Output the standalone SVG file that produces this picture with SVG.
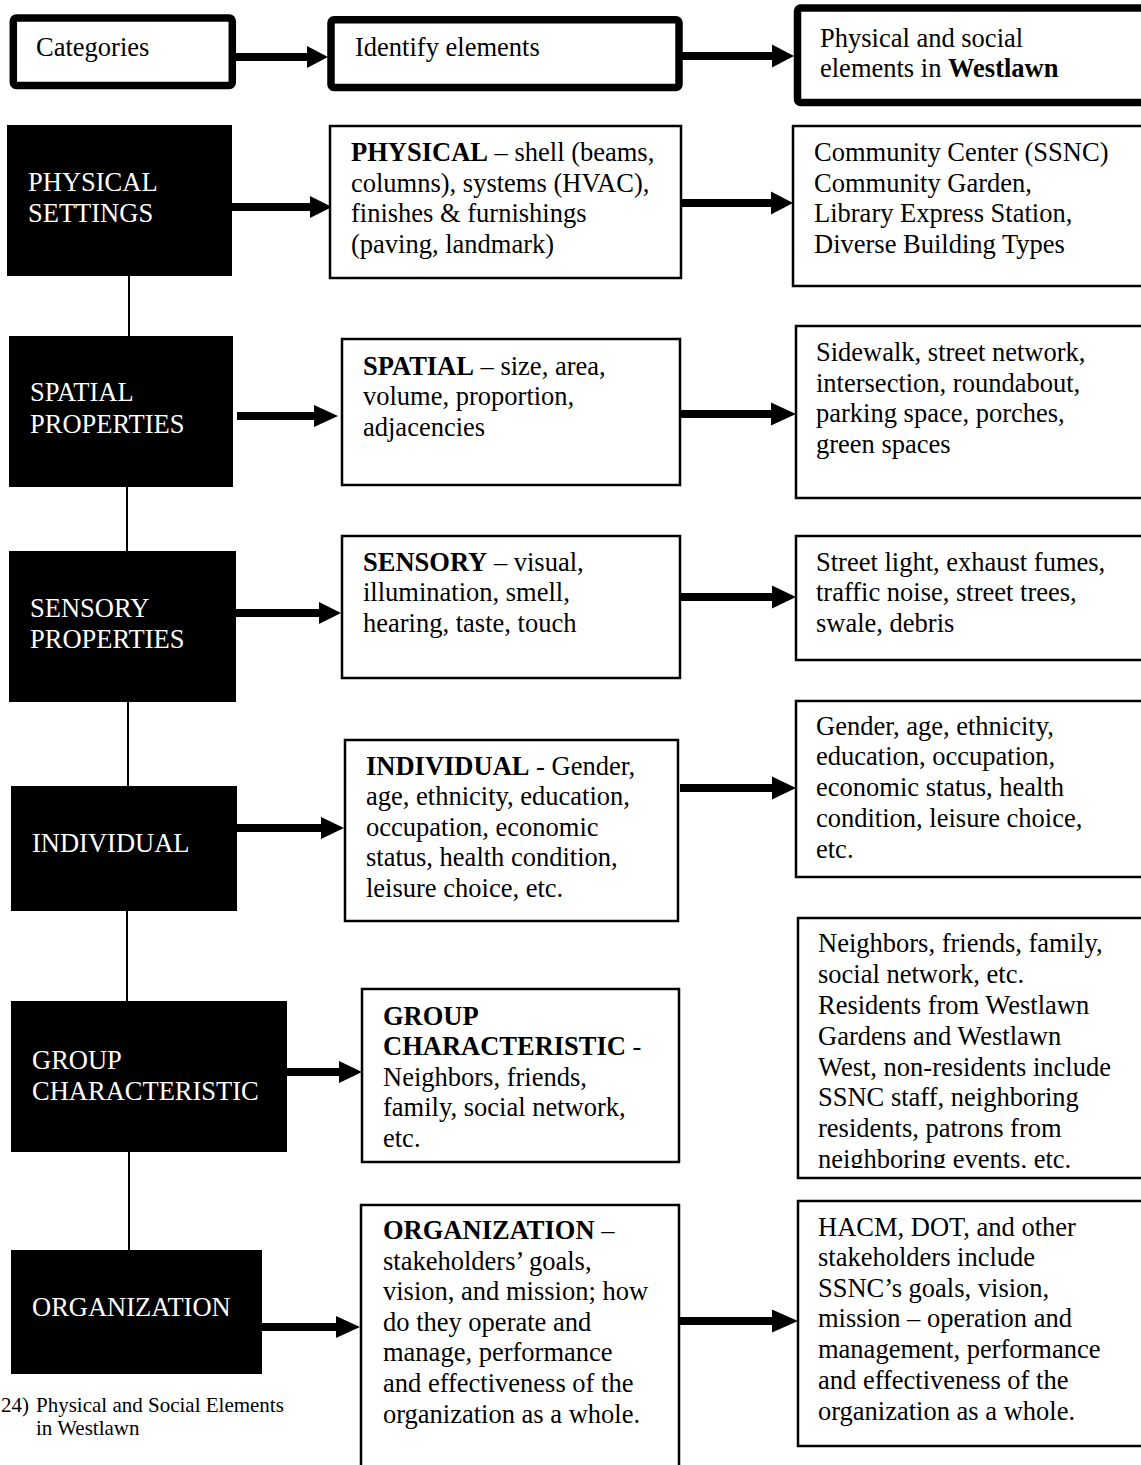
<svg xmlns="http://www.w3.org/2000/svg" width="1141" height="1465" viewBox="0 0 1141 1465">
<style>
text{font-family:"Liberation Serif","Times New Roman",serif;font-size:26.5px;fill:#000}
.w{fill:#fff}
.b{font-weight:bold}
.cap{font-size:21px}
.hdr{fill:#fff;stroke:#000;stroke-width:7.5}
.box{fill:#fff;stroke:#000;stroke-width:2.5}
.blk{fill:#000}
.vl{stroke:#000;stroke-width:2;fill:none}
.ar{fill:#000}
</style>
<defs>
<clipPath id="clip5"><rect x="798" y="918" width="343" height="250"/></clipPath>
</defs>
<rect width="1141" height="1465" fill="#fff"/>

<g id="connectors">
<line class="vl" x1="129" y1="276" x2="129" y2="336"/>
<line class="vl" x1="127" y1="487" x2="127" y2="551"/>
<line class="vl" x1="128" y1="702" x2="128" y2="786"/>
<line class="vl" x1="127" y1="911" x2="127" y2="1001"/>
<line class="vl" x1="129" y1="1152" x2="129" y2="1250"/>
<polygon class="ar" points="236,53 307,53 307,46 328,57 307,68 307,61 236,61"/>
<polygon class="ar" points="682,52 772,52 772,44.5 794,56 772,67.5 772,60 682,60"/>
<polygon class="ar" points="232,203 310,203 310,196 332,207 310,218 310,211 232,211"/>
<polygon class="ar" points="681,199 771,199 771,191.5 793,203 771,214.5 771,207 681,207"/>
<polygon class="ar" points="237,412 314,412 314,405 338,416 314,427 314,420 237,420"/>
<polygon class="ar" points="680,410 771,410 771,402.5 796,414 771,425.5 771,418 680,418"/>
<polygon class="ar" points="236,609 319,609 319,602 341,613 319,624 319,617 236,617"/>
<polygon class="ar" points="680,593 772,593 772,585.5 796,597 772,608.5 772,601 680,601"/>
<polygon class="ar" points="237,824 321,824 321,817 344,828 321,839 321,832 237,832"/>
<polygon class="ar" points="680,784 772,784 772,776.5 796,788 772,799.5 772,792 680,792"/>
<polygon class="ar" points="287,1068 339,1068 339,1061 362,1072 339,1083 339,1076 287,1076"/>
<polygon class="ar" points="262,1323 336,1323 336,1316 360,1327 336,1338 336,1331 262,1331"/>
<polygon class="ar" points="679,1317 772,1317 772,1309.5 798,1321 772,1332.5 772,1325 679,1325"/>
</g>

<g id="hdr-categories">
<rect class="hdr" x="13.3" y="18" width="219" height="67.5" rx="3"/>
<text x="36" y="56">Categories</text>
</g>
<g id="hdr-identify">
<rect class="hdr" x="331" y="19.7" width="348" height="67.8" rx="3"/>
<text x="355" y="56">Identify elements</text>
</g>
<g id="hdr-westlawn">
<rect class="hdr" x="797.5" y="8" width="360" height="94.5" rx="3"/>
<text x="820" y="47">Physical and social</text>
<text x="820" y="77">elements in <tspan class="b">Westlawn</tspan></text>
</g>

<g id="cat-physical">
<rect class="blk" x="7" y="125" width="225" height="151"/>
<text class="w" x="28" y="191">PHYSICAL</text>
<text class="w" x="28" y="222">SETTINGS</text>
</g>
<g id="cat-spatial">
<rect class="blk" x="9" y="336" width="224" height="151"/>
<text class="w" x="30" y="401">SPATIAL</text>
<text class="w" x="30" y="433">PROPERTIES</text>
</g>
<g id="cat-sensory">
<rect class="blk" x="9" y="551" width="227" height="151"/>
<text class="w" x="30" y="617">SENSORY</text>
<text class="w" x="30" y="648">PROPERTIES</text>
</g>
<g id="cat-individual">
<rect class="blk" x="11" y="786" width="226" height="125"/>
<text class="w" x="32" y="852">INDIVIDUAL</text>
</g>
<g id="cat-group">
<rect class="blk" x="11" y="1001" width="276" height="151"/>
<text class="w" x="32" y="1069">GROUP</text>
<text class="w" x="32" y="1100">CHARACTERISTIC</text>
</g>
<g id="cat-organization">
<rect class="blk" x="11" y="1250" width="251" height="124"/>
<text class="w" x="32" y="1316">ORGANIZATION</text>
</g>

<g id="id-physical">
<rect class="box" x="330" y="126" width="351" height="152"/>
<text x="351" y="161"><tspan class="b">PHYSICAL</tspan> – shell (beams,</text>
<text x="351" y="192">columns), systems (HVAC),</text>
<text x="351" y="222">finishes &amp; furnishings</text>
<text x="351" y="253">(paving, landmark)</text>
</g>
<g id="id-spatial">
<rect class="box" x="342" y="339" width="338" height="146"/>
<text x="363" y="375"><tspan class="b">SPATIAL</tspan> – size, area,</text>
<text x="363" y="405">volume, proportion,</text>
<text x="363" y="436">adjacencies</text>
</g>
<g id="id-sensory">
<rect class="box" x="342" y="536" width="338" height="142"/>
<text x="363" y="571"><tspan class="b">SENSORY</tspan> – visual,</text>
<text x="363" y="601">illumination, smell,</text>
<text x="363" y="632">hearing, taste, touch</text>
</g>
<g id="id-individual">
<rect class="box" x="345" y="740" width="333" height="181"/>
<text x="366" y="775"><tspan class="b">INDIVIDUAL</tspan> - Gender,</text>
<text x="366" y="805">age, ethnicity, education,</text>
<text x="366" y="836">occupation, economic</text>
<text x="366" y="866">status, health condition,</text>
<text x="366" y="897">leisure choice, etc.</text>
</g>
<g id="id-group">
<rect class="box" x="362" y="989" width="317" height="173"/>
<text x="383" y="1025" class="b">GROUP</text>
<text x="383" y="1055"><tspan class="b">CHARACTERISTIC</tspan> -</text>
<text x="383" y="1086">Neighbors, friends,</text>
<text x="383" y="1116">family, social network,</text>
<text x="383" y="1147">etc.</text>
</g>
<g id="id-organization">
<rect class="box" x="361" y="1205" width="318" height="280"/>
<text x="383" y="1239"><tspan class="b">ORGANIZATION</tspan> –</text>
<text x="383" y="1270">stakeholders’ goals,</text>
<text x="383" y="1300">vision, and mission; how</text>
<text x="383" y="1331">do they operate and</text>
<text x="383" y="1361">manage, performance</text>
<text x="383" y="1392">and effectiveness of the</text>
<text x="383" y="1423">organization as a whole.</text>
</g>

<g id="wl-physical">
<rect class="box" x="793" y="126" width="360" height="160"/>
<text x="814" y="161">Community Center (SSNC)</text>
<text x="814" y="192">Community Garden,</text>
<text x="814" y="222">Library Express Station,</text>
<text x="814" y="253">Diverse Building Types</text>
</g>
<g id="wl-spatial">
<rect class="box" x="796" y="326" width="360" height="172"/>
<text x="816" y="361">Sidewalk, street network,</text>
<text x="816" y="392">intersection, roundabout,</text>
<text x="816" y="422">parking space, porches,</text>
<text x="816" y="453">green spaces</text>
</g>
<g id="wl-sensory">
<rect class="box" x="796" y="536" width="360" height="124"/>
<text x="816" y="571">Street light, exhaust fumes,</text>
<text x="816" y="601">traffic noise, street trees,</text>
<text x="816" y="632">swale, debris</text>
</g>
<g id="wl-individual">
<rect class="box" x="796" y="701" width="360" height="176"/>
<text x="816" y="735">Gender, age, ethnicity,</text>
<text x="816" y="765">education, occupation,</text>
<text x="816" y="796">economic status, health</text>
<text x="816" y="827">condition, leisure choice,</text>
<text x="816" y="858">etc.</text>
</g>
<g id="wl-group">
<rect class="box" x="798" y="918" width="360" height="260"/>
<g clip-path="url(#clip5)">
<text x="818" y="952">Neighbors, friends, family,</text>
<text x="818" y="983">social network, etc.</text>
<text x="818" y="1014">Residents from Westlawn</text>
<text x="818" y="1045">Gardens and Westlawn</text>
<text x="818" y="1076">West, non-residents include</text>
<text x="818" y="1106">SSNC staff, neighboring</text>
<text x="818" y="1137">residents, patrons from</text>
<text x="818" y="1168">neighboring events, etc.</text>
</g>
</g>
<g id="wl-organization">
<rect class="box" x="798" y="1201" width="360" height="245"/>
<text x="818" y="1236">HACM, DOT, and other</text>
<text x="818" y="1266">stakeholders include</text>
<text x="818" y="1297">SSNC’s goals, vision,</text>
<text x="818" y="1327">mission – operation and</text>
<text x="818" y="1358">management, performance</text>
<text x="818" y="1389">and effectiveness of the</text>
<text x="818" y="1420">organization as a whole.</text>
</g>

<g id="caption">
<text class="cap" x="1" y="1412">24)</text>
<text class="cap" x="36" y="1412">Physical and Social Elements</text>
<text class="cap" x="36" y="1435">in Westlawn</text>
</g>
</svg>
